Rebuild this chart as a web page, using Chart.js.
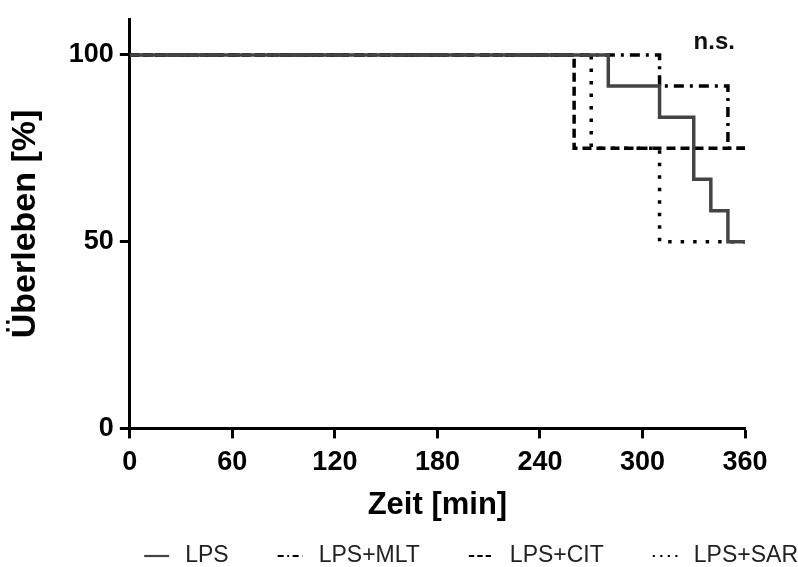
<!DOCTYPE html>
<html>
<head>
<meta charset="utf-8">
<script src="https://cdn.jsdelivr.net/npm/chart.js@4.4.1/dist/chart.umd.min.js"></script>
<style>
  html, body { margin: 0; padding: 0; background: #fff; }
  #wrap { width: 798px; height: 567px; }
</style>
</head>
<body>
<div id="wrap"><canvas id="chart" width="798" height="567"></canvas></div>
<script>
// Kaplan-Meier steps: time [min] and survival [%]
const lpsTime = [0, 280, 310, 330, 340, 350, 360];
const lpsSurv = [100, 91.7, 83.3, 66.7, 58.3, 50, 50];
const mltTime = [0, 310, 350, 360];
const mltSurv = [100, 91.7, 75, 75];
const citTime = [0, 260, 360];
const citSurv = [100, 75, 75];
const sarTime = [0, 270, 310, 360];
const sarSurv = [100, 75, 50, 50];

const seriesNames = ['LPS', 'LPS+MLT', 'LPS+CIT', 'LPS+SAR'];
const xTicks = [0, 60, 120, 180, 240, 300, 360];
const yTicks = [0, 50, 100];
const noteText = 'n.s.';
const notePos = [342, 103.5];

const FONT = '"Liberation Sans", Arial, Helvetica, sans-serif';

function pts(t, s) {
  return t.map((v, i) => ({ x: v, y: s[i] }));
}

function line(label, t, s, color, width, dash, order) {
  return {
    label,
    data: pts(t, s),
    stepped: true,
    borderColor: color,
    backgroundColor: color,
    borderWidth: width,
    borderDash: dash,
    borderCapStyle: 'butt',
    pointRadius: 0,
    fill: false,
    clip: 4,
    order
  };
}

// text label top right
const notePlugin = {
  id: 'note',
  afterDatasetsDraw(chart) {
    const { ctx, scales } = chart;
    ctx.save();
    ctx.font = 'bold 24px ' + FONT;
    ctx.fillStyle = '#111';
    ctx.textAlign = 'center';
    ctx.textBaseline = 'middle';
    ctx.fillText(noteText, scales.x.getPixelForValue(notePos[0]), scales.y.getPixelForValue(notePos[1]));
    ctx.restore();
  }
};

// one-row legend at the bottom, flush right, thinner/smaller line samples
const legendRow = {
  id: 'legendRow',
  afterDraw(chart) {
    const ctx = chart.ctx;
    const sample = 25, textGap = 16, itemGap = 49;
    ctx.save();
    ctx.font = '23px ' + FONT;
    const items = chart.data.datasets.map(ds => ({ ds, w: ctx.measureText(ds.label).width }));
    const total = items.reduce((a, it) => a + sample + textGap + it.w, 0) + itemGap * (items.length - 1);
    let x = chart.width - total;
    const y = 556;
    items.forEach(it => {
      ctx.beginPath();
      ctx.setLineDash((it.ds.borderDash || []).map(d => d * 0.6));
      ctx.lineWidth = 2.2;
      ctx.strokeStyle = it.ds.borderColor;
      ctx.moveTo(x, y);
      ctx.lineTo(x + sample, y);
      ctx.stroke();
      ctx.setLineDash([]);
      ctx.fillStyle = '#222';
      ctx.textBaseline = 'middle';
      ctx.textAlign = 'left';
      ctx.fillText(it.ds.label, x + sample + textGap, y);
      x += sample + textGap + it.w + itemGap;
    });
    ctx.restore();
  }
};

new Chart(document.getElementById('chart'), {
  type: 'line',
  data: {
    datasets: [
      line(seriesNames[0], lpsTime, lpsSurv, '#444', 3.5, [], 0),
      line(seriesNames[1], mltTime, mltSurv, '#000', 3.5, [10, 6, 3, 6], 1),
      line(seriesNames[2], citTime, citSurv, '#000', 3.5, [9, 5], 2),
      line(seriesNames[3], sarTime, sarSurv, '#000', 3.5, [3.5, 9], 3)
    ]
  },
  options: {
    responsive: false,
    animation: false,
    layout: { padding: { left: 0, right: 53, top: 12, bottom: 43 } },
    plugins: {
      legend: { display: false },
      tooltip: { enabled: false }
    },
    scales: {
      x: {
        type: 'linear',
        min: 0,
        max: 360,
        afterBuildTicks: s => { s.ticks = xTicks.map(v => ({ value: v })); },
        ticks: { color: '#000', font: { family: FONT, size: 27, weight: 'bold' }, padding: 8, maxRotation: 0 },
        grid: { drawOnChartArea: false, tickLength: 10, tickWidth: 3, tickColor: '#000' },
        border: { color: '#000', width: 3 },
        title: { display: true, text: 'Zeit [min]', color: '#000', font: { family: FONT, size: 31, weight: 'bold' }, padding: { top: 0, bottom: 0 } }
      },
      y: {
        min: 0,
        max: 109.5,
        afterBuildTicks: s => { s.ticks = yTicks.map(v => ({ value: v })); },
        ticks: { color: '#000', font: { family: FONT, size: 27, weight: 'bold', lineHeight: 1 }, padding: 6 },
        grid: { drawOnChartArea: false, tickLength: 10, tickWidth: 3, tickColor: '#000' },
        border: { color: '#000', width: 3 },
        title: { display: true, text: 'Überleben [%]', color: '#000', font: { family: FONT, size: 34, weight: 'bold' }, padding: { top: 5, bottom: 17 } }
      }
    }
  },
  plugins: [notePlugin, legendRow]
});
</script>
</body>
</html>
